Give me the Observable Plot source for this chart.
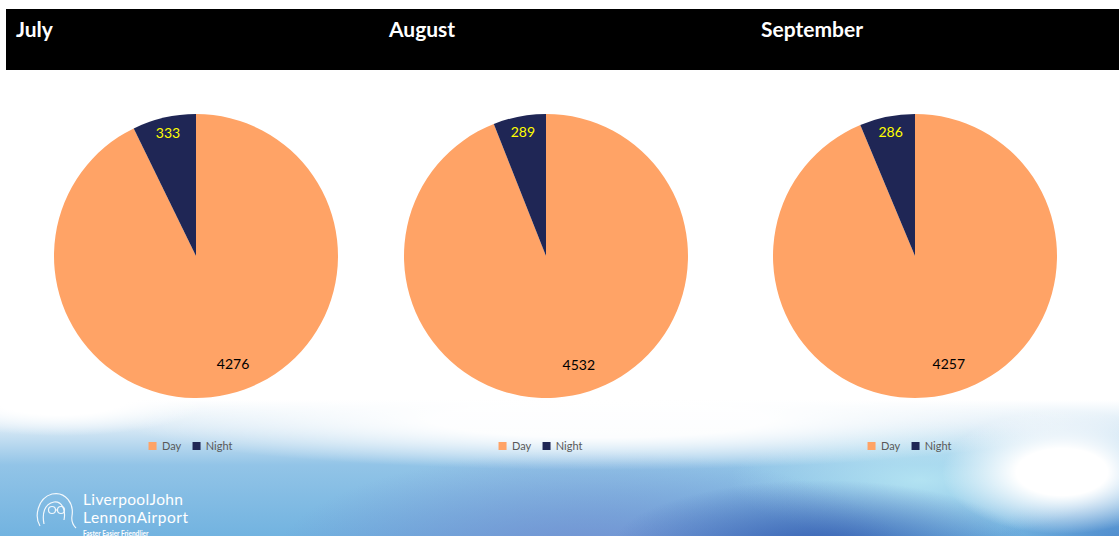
<!DOCTYPE html>
<html><head><meta charset="utf-8">
<script src="https://cdn.jsdelivr.net/npm/d3@7"></script>
<script src="https://cdn.jsdelivr.net/npm/@observablehq/plot@0.6"></script>
<style>
html,body{margin:0;padding:0;}
body{width:1119px;height:536px;overflow:hidden;position:relative;font-family:Lato,"Open Sans",sans-serif;
background:
 radial-gradient(ellipse 120px 62px at 1062px 472px, #ffffff 38%, rgba(255,255,255,0) 100%),
 radial-gradient(ellipse 150px 38px at 60px 398px, rgba(255,255,255,1) 45%, rgba(255,255,255,0) 100%),
 radial-gradient(ellipse 480px 50px at 600px 420px, rgba(255,255,255,0.95) 35%, rgba(255,255,255,0) 100%),
 radial-gradient(ellipse 210px 70px at 820px 550px, rgba(50,90,175,0.95) 0%, rgba(50,90,175,0) 100%),
 radial-gradient(ellipse 320px 115px at 590px 565px, rgba(115,135,205,0.85) 0%, rgba(115,135,205,0) 100%),
 radial-gradient(ellipse 190px 60px at 920px 480px, rgba(185,232,244,0.85) 0%, rgba(185,232,244,0) 100%),
 radial-gradient(ellipse 120px 60px at 1119px 540px, rgba(70,130,200,0.8) 0%, rgba(70,130,200,0) 100%),
 linear-gradient(180deg, #ffffff 0px, #ffffff 400px, #d6e8f5 428px, #92c4e7 465px, #72b3e0 536px);
}
#header{position:absolute;left:6px;top:9px;width:1113px;height:61px;background:#000;}
.title{position:absolute;top:16px;color:#fff;font-weight:700;font-size:21px;font-family:Lato,"Open Sans",sans-serif;}
.pie{position:absolute;top:114px;}
.legend{position:absolute;top:429px;transform:translateX(-50%);white-space:nowrap;}
#logo{position:absolute;left:30px;top:486px;}
</style>
</head><body>
<div id="header"></div>
<div id="root"></div>
<svg id="logo" width="200" height="50">
  <g fill="none" stroke="#fff" stroke-width="1.2" opacity="0.9">
    <path d="M10 40 C4 30 8 12 22 8 C36 5 44 18 42 30 C41 36 44 40 46 42"/>
    <path d="M14 38 C12 28 14 18 24 16 C32 15 36 24 34 34"/>
    <circle cx="22" cy="24" r="3.5"/><circle cx="31" cy="24" r="3.5"/>
    <path d="M25.5 24 L27.5 24"/>
  </g>
  <text x="53" y="19" fill="#fff" font-size="15.5" font-family="Lato,'Open Sans',sans-serif" textLength="100">LiverpoolJohn</text>
  <text x="53" y="37" fill="#fff" font-size="15.5" font-family="Lato,'Open Sans',sans-serif" textLength="105">LennonAirport</text>
  <text x="53" y="50" fill="#fff" font-size="6.5" font-weight="700" font-family="Lato,'Open Sans',sans-serif">Faster Easier Friendlier</text>
</svg>
<script>
// ---- data ----
const months = ["July", "August", "September"];
const series = ["Day", "Night"];
const dayValues = [4276, 4532, 4257];
const nightValues = [333, 289, 286];

// ---- styles / layout ----
const seriesColors = ["#FFA366", "#1F2655"];
const labelColors = {Day: "#000000", Night: "#FFFF00"};
const labelRadius = {Day: 0.8, Night: 0.89};
const labelShift = {Day: [11, -3], Night: [0, 0]};
const layout = {centers: [196, 546, 915], titleLeft: [16, 389, 761], radius: 142};

const root = document.getElementById("root");
const font = "Lato, 'Open Sans', sans-serif";

months.forEach((month, m) => {
  const t = document.createElement("div");
  t.className = "title";
  t.style.left = layout.titleLeft[m] + "px";
  t.textContent = month;
  root.appendChild(t);

  const data = series.map((s, i) => ({series: s, value: i === 0 ? dayValues[m] : nightValues[m]}));
  const arcs = d3.pie().sort(null).value(d => d.value)(data);
  const labels = arcs.map(a => {
    const ang = (a.startAngle + a.endAngle) / 2;
    const r = labelRadius[a.data.series];
    return {...a.data, x: r * Math.sin(ang), y: r * Math.cos(ang)};
  });
  const colorOf = s => seriesColors[series.indexOf(s)];
  const size = layout.radius * 2;

  const textMarks = series.map(s => Plot.text(labels.filter(d => d.series === s), {
    x: "x", y: "y", text: d => String(d.value),
    fill: labelColors[s], dx: labelShift[s][0], dy: labelShift[s][1],
    fontSize: 14, fontFamily: font
  }));

  const plot = Plot.plot({
    width: size, height: size, margin: 0,
    x: {domain: [-1, 1], axis: null},
    y: {domain: [-1, 1], axis: null},
    style: {background: "transparent", overflow: "visible"},
    marks: [
      (index, scales) => {
        const cx = scales.x(0), cy = scales.y(0), r = scales.x(1) - scales.x(0);
        const arc = d3.arc().innerRadius(0).outerRadius(r);
        const g = d3.create("svg:g").attr("transform", `translate(${cx},${cy})`);
        g.selectAll("path").data(arcs).join("path")
          .attr("d", arc).attr("fill", d => colorOf(d.data.series));
        return g.node();
      },
      ...textMarks
    ]
  });
  plot.classList.add("pie");
  plot.style.left = (layout.centers[m] - layout.radius) + "px";
  root.appendChild(plot);

  const leg = Plot.legend({
    color: {type: "categorical", domain: series, range: seriesColors},
    swatchSize: 8,
    style: {fontSize: "11px", color: "#595959", fontFamily: font, background: "transparent"}
  });
  const wrap = document.createElement("div");
  wrap.className = "legend";
  wrap.style.left = layout.centers[m] + "px";
  wrap.appendChild(leg);
  root.appendChild(wrap);
});
</script>
</body></html>
